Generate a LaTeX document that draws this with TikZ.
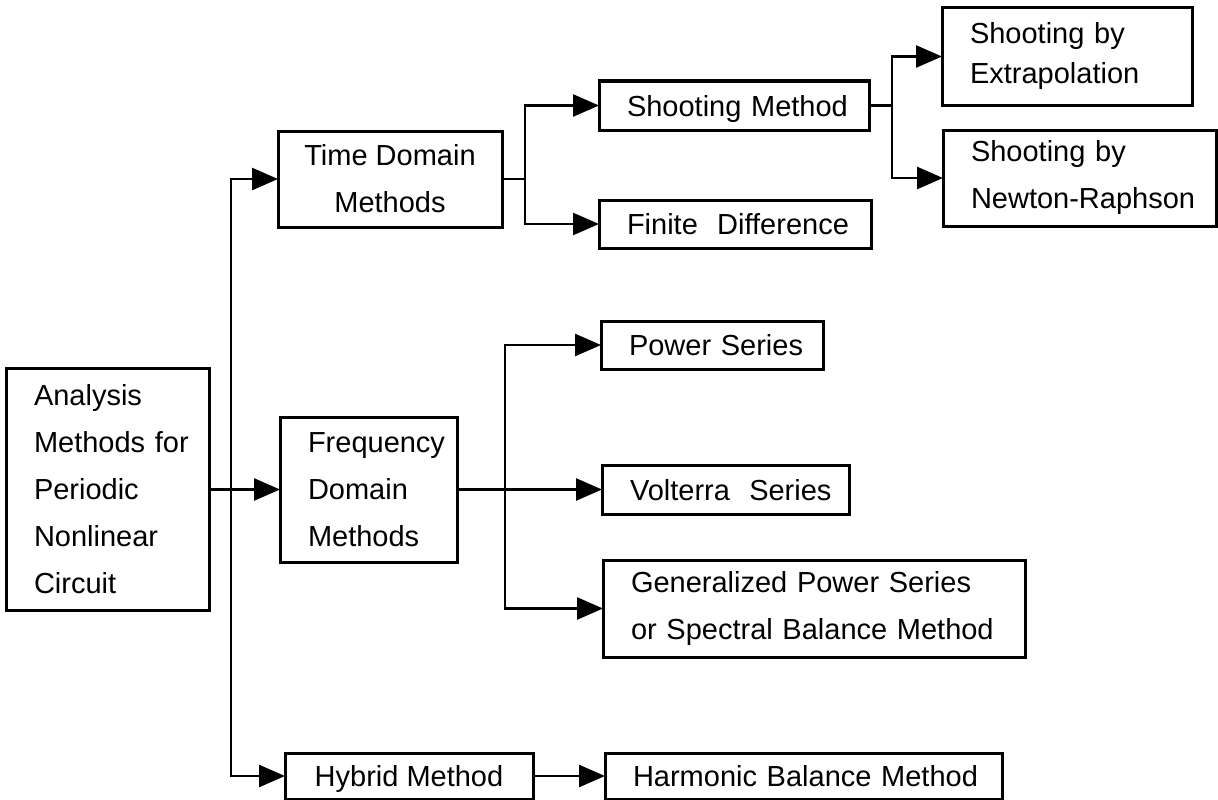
\documentclass[tikz,border=0pt]{standalone}
\usepackage{fontspec}
\setmainfont{Liberation Sans}
\usetikzlibrary{arrows.meta}
\begin{document}
\begin{tikzpicture}[x=1pt,y=-1pt,
  every node/.style={font=\fontsize{29}{47}\selectfont},
  frame/.style={draw, line width=3pt, inner sep=0pt, outer sep=0pt},
  lbox/.style={frame, align=left, text width=#1, minimum width=#1,
    execute at begin node={\leftskip=28pt\relax}},
  cbox/.style={frame, align=center, minimum width=#1},
  oneline/.style={text depth=0pt},
  wire/.style={line width=2.6pt},
  conn/.style={wire, -{Triangle[length=26pt,width=22pt]}}]

\useasboundingbox (0,0) rectangle (1218,800);

% root and first level
\node[lbox=203pt, minimum height=242pt] (root) at (107.5,489.5)
  {Analysis\\Methods for\\Periodic\\Nonlinear\\Circuit};
\node[cbox=224pt, minimum height=96pt] (td) at (390,179) {Time Domain\\Methods};
\node[lbox=177pt, minimum height=145pt] (fq) at (368.5,489.5) {Frequency\\Domain\\Methods};
\node[cbox=248pt, minimum height=46pt, oneline] (hy) at (409,776) {Hybrid Method};

% time domain branch
\node[lbox=270pt, minimum height=49pt, oneline] (sm) at (734,105.5) {Shooting Method};
\node[lbox=272pt, minimum height=48pt, oneline] (fd) at (735,224) {Finite~ Difference};
\node[lbox=250pt, minimum height=97pt, font=\fontsize{29}{40}\selectfont] (ex) at (1067,56.5)
  {Shooting by\\Extrapolation};
\node[lbox=273pt, minimum height=96pt] (nr) at (1079.5,178) {Shooting by\\Newton-Raphson};

% frequency domain branch
\node[lbox=222pt, minimum height=48pt, oneline] (ps) at (712,345) {Power Series};
\node[lbox=247pt, minimum height=49pt, oneline] (vs) at (725.5,489.5) {Volterra~ Series};
\node[lbox=422pt, minimum height=97pt] (gp) at (814,608.5)
  {Generalized Power Series\\or Spectral Balance Method};

% hybrid branch
\node[lbox=397pt, minimum height=46pt, oneline] (hb) at (803.5,776) {Harmonic Balance Method};

% junction points
\coordinate (j1) at (231,489.5);
\coordinate (j2) at (525,179);
\coordinate (j3) at (892,105.5);
\coordinate (j4) at (505,489.5);

% connectors
\draw[conn] (root.east) -- (fq.west);
\draw[conn] (j1) |- (td.west);
\draw[conn] (j1) |- (hy.west);
\draw[wire] (td.east) -- (j2);
\draw[conn] (j2) |- (sm.west);
\draw[conn] (j2) |- (fd.west);
\draw[wire] (sm.east) -- (j3);
\draw[conn] (j3) |- (ex.west);
\draw[conn] (j3) |- (nr.west);
\draw[conn] (fq.east) -- (vs.west);
\draw[conn] (j4) |- (ps.west);
\draw[conn] (j4) |- (gp.west);
\draw[conn] (hy.east) -- (hb.west);
\end{tikzpicture}
\end{document}
